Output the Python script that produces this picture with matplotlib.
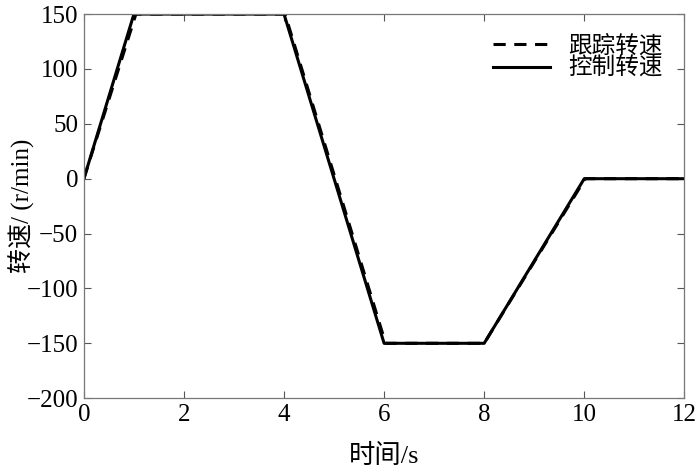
import matplotlib
matplotlib.use("Agg")
import matplotlib.pyplot as plt

plt.rcParams['font.family'] = ['Liberation Serif', 'Noto Sans CJK SC']

# ─── Data ───────────────────────────────────────────────────────────────────
t_ctrl = [0, 1, 4, 6, 8, 10, 12]
n_ctrl = [0, 150, 150, -150, -150, 0, 0]

t_track = [0, 1.04, 4.02, 6.03, 8.0, 10.02, 12]
n_track = [0, 150, 150, -150, -150, 0, 0]

yticks = list(range(-200, 151, 50))

fig = plt.figure(figsize=(6.99, 4.69), dpi=100)
ax = fig.add_axes([0.120, 0.151, 0.859, 0.819])

ax.plot(t_track, n_track, "--", color="black", linewidth=2.2, dashes=(4, 2.8), label="跟踪转速")
ax.plot(t_ctrl, n_ctrl, "-", color="black", linewidth=2.2, label="控制转速")

ax.set_xlim(0, 12)
ax.set_ylim(-200, 150)
ax.set_xticks(range(0, 13, 2))
ax.set_yticks(yticks)
ax.set_yticklabels([str(v).replace("-", "\u2212") for v in yticks])
ax.tick_params(direction="in", labelsize=18, length=5, width=0.8, color="#555555",
               top=True, right=True, pad=4)
for s in ax.spines.values():
    s.set_color("#777777")
    s.set_linewidth(0.9)

ax.set_xlabel("时间/s", fontsize=19)
ax.set_ylabel("转速/ (r/min)", fontsize=18)
ax.xaxis.set_label_coords(0.5, -0.118)
ax.yaxis.set_label_coords(-0.082, 0.5)

leg = ax.legend(loc="upper right", frameon=False, fontsize=17, handlelength=2.4,
                labelspacing=0.0, borderaxespad=0.5, handletextpad=0.8)

plt.savefig("out.png", dpi=100)
